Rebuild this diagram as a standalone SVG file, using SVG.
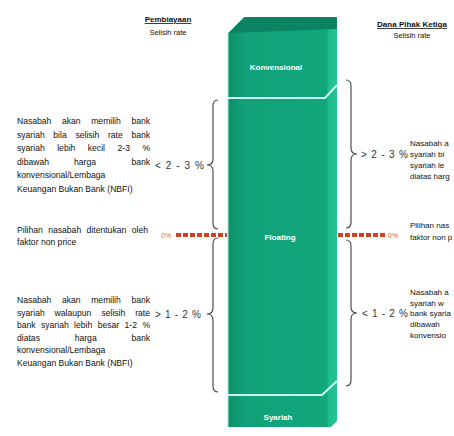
<svg xmlns="http://www.w3.org/2000/svg" width="454" height="436" viewBox="0 0 454 436">
<defs>
<linearGradient id="gFront" x1="0" y1="0" x2="1" y2="0">
<stop offset="0" stop-color="#0d8f68"/>
<stop offset="0.15" stop-color="#11a178"/>
<stop offset="0.9" stop-color="#12a67b"/>
<stop offset="0.93" stop-color="#1fbf8e"/>
<stop offset="1" stop-color="#22c492"/>
</linearGradient>
</defs>
<style>
.txt{font-family:"Liberation Sans",Arial,sans-serif;font-size:8.6px;fill:#111}
.rt{font-family:"Liberation Sans",Arial,sans-serif;font-size:8px;fill:#111}
.hd{font-family:"Liberation Sans",Arial,sans-serif;font-size:8px;font-weight:bold;fill:#111;text-decoration:underline}
.sub{font-family:"Liberation Sans",Arial,sans-serif;font-size:7.5px;fill:#111}
.lbl{font-family:"Liberation Sans",Arial,sans-serif;font-size:10px;fill:#333}
.blk{font-family:"Liberation Sans",Arial,sans-serif;font-size:8px;font-weight:bold;fill:#ffffff}
.zero{font-family:"Liberation Sans",Arial,sans-serif;font-size:7px;fill:#e8632b}
.brace{fill:none;stroke:#4d4d4d;stroke-width:1.2}
.dash{fill:none;stroke:#d5401c;stroke-width:4;stroke-dasharray:5 2}
.div{fill:none;stroke:#c8fff0;stroke-width:2}
</style>

<g id="headings">
<text class="hd" x="168" y="22" text-anchor="middle">Pembiayaan</text>
<text class="sub" x="168" y="35" text-anchor="middle">Selisih rate</text>
<text class="hd" x="412" y="27" text-anchor="middle">Dana Pihak Ketiga</text>
<text class="sub" x="412" y="38" text-anchor="middle">Selisih rate</text>
</g>

<g id="column">
<path d="M228,33 L244,17 L337,17 L337,421 L331,427 L228,427 Z" fill="url(#gFront)"/>
<path d="M228,33 L244,17 L337,17 L337,29 L228,33 Z" fill="#0c8461"/>
<path d="M228,427 L228,33 L244,17" fill="none" stroke="#9ff3da" stroke-width="1"/>
</g>

<g id="konvensional">
<text class="blk" x="276" y="70" text-anchor="middle">Konvensional</text>
</g>
<g id="floating">
<polyline class="div" points="228,98 325,98 337,85"/>
<text class="blk" x="280" y="240" text-anchor="middle">Floating</text>
</g>
<g id="syariah">
<polyline class="div" points="228,395 322,395 337,381"/>
<text class="blk" x="278" y="420" text-anchor="middle">Syariah</text>
</g>

<g id="connectors">
<path class="brace" d="M218,100 Q213,100 213,106 L213,159 Q213,165 207,165 Q213,165 213,171 L213,223 Q213,229 218,229"/>
<path class="brace" d="M218,238 Q213,238 213,244 L213,308 Q213,314 207,314 Q213,314 213,320 L213,386 Q213,392 218,392"/>
<path class="brace" d="M346,80 Q351,80 351,86 L351,148 Q351,154 357,154 Q351,154 351,160 L351,222 Q351,228 346,228"/>
<path class="brace" d="M346,240 Q351,240 351,246 L351,307 Q351,313 357,313 Q351,313 351,319 L351,380 Q351,386 346,386"/>
<line class="dash" x1="176" y1="235" x2="227" y2="235"/>
<line class="dash" x1="338" y1="235" x2="385" y2="235"/>
</g>

<g id="labels">
<text class="lbl" x="155" y="168.5" textLength="49" lengthAdjust="spacing">&lt;2-3%</text>
<text class="lbl" x="155" y="317.5" textLength="46" lengthAdjust="spacing">&gt;1-2%</text>
<text class="lbl" x="361" y="157.5" textLength="47" lengthAdjust="spacing">&gt;2-3%</text>
<text class="lbl" x="362" y="316.5" textLength="46" lengthAdjust="spacing">&lt;1-2%</text>
<text class="zero" x="161" y="237.5">0%</text>
<text class="zero" x="388" y="237.5">0%</text>
</g>

<g id="left-top-text">
<text class="txt" y="124"><tspan x="17">Nasabah</tspan><tspan x="62">akan</tspan><tspan x="91.2">memilih</tspan><tspan x="131.4">bank</tspan></text>
<text class="txt" y="137.5"><tspan x="17">syariah</tspan><tspan x="53.3">bila</tspan><tspan x="75.4">selisih</tspan><tspan x="107.9">rate</tspan><tspan x="131.4">bank</tspan></text>
<text class="txt" y="151"><tspan x="17">syariah</tspan><tspan x="57.2">lebih</tspan><tspan x="87.8">kecil</tspan><tspan x="117.5">2-3</tspan><tspan x="142.4">%</tspan></text>
<text class="txt" y="164.5"><tspan x="17">dibawah</tspan><tspan x="74">harga</tspan><tspan x="131.4">bank</tspan></text>
<text class="txt" x="17" y="178">konvensional/Lembaga</text>
<text class="txt" x="17" y="191.5">Keuangan Bukan Bank (NBFI)</text>
</g>

<g id="left-mid-text">
<text class="txt" y="233"><tspan x="17">Pilihan</tspan><tspan x="48.2">nasabah</tspan><tspan x="86.6">ditentukan</tspan><tspan x="131.7">oleh</tspan></text>
<text class="txt" x="17" y="245">faktor non price</text>
</g>

<g id="left-bottom-text">
<text class="txt" y="303"><tspan x="17">Nasabah</tspan><tspan x="62">akan</tspan><tspan x="91.2">memilih</tspan><tspan x="131.4">bank</tspan></text>
<text class="txt" y="315.5"><tspan x="17">syariah</tspan><tspan x="54.6">walaupun</tspan><tspan x="101.4">selisih</tspan><tspan x="135.2">rate</tspan></text>
<text class="txt" y="328"><tspan x="17">bank</tspan><tspan x="41">syariah</tspan><tspan x="74.1">lebih</tspan><tspan x="97.7">besar</tspan><tspan x="124.6">1-2</tspan><tspan x="142.4">%</tspan></text>
<text class="txt" y="340.5"><tspan x="17">diatas</tspan><tspan x="74.7">harga</tspan><tspan x="131.4">bank</tspan></text>
<text class="txt" x="17" y="353">konvensional/Lembaga</text>
<text class="txt" x="17" y="365.5">Keuangan Bukan Bank (NBFI)</text>
</g>

<g id="right-top-text">
<text class="rt" x="410" y="146">Nasabah a</text>
<text class="rt" x="410" y="157">syariah bi</text>
<text class="rt" x="410" y="168">syariah le</text>
<text class="rt" x="410" y="179">diatas harg</text>
</g>

<g id="right-mid-text">
<text class="rt" x="410" y="228">Pilihan nas</text>
<text class="rt" x="410" y="240">faktor non p</text>
</g>

<g id="right-bottom-text">
<text class="rt" x="410" y="295">Nasabah a</text>
<text class="rt" x="410" y="306">syariah w</text>
<text class="rt" x="410" y="316">bank syaria</text>
<text class="rt" x="410" y="327">dibawah</text>
<text class="rt" x="410" y="338">konvensio</text>
</g>
</svg>
